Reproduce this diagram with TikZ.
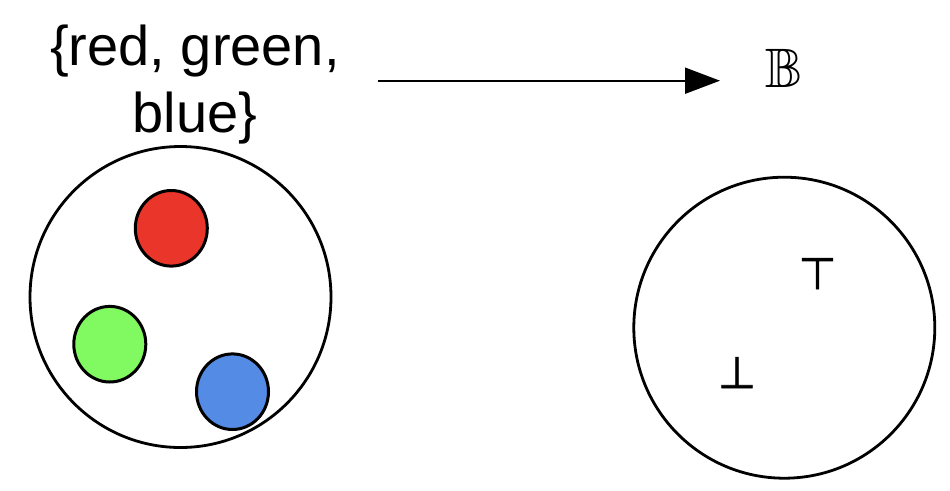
\documentclass[tikz,border=0pt]{standalone}
\usepackage{fontspec}
\setmainfont{Liberation Sans}
\newfontfamily\symfont[FakeBold=1.5]{DejaVu Sans}
\usepackage{amssymb}
\usetikzlibrary{shapes.geometric,arrows.meta}
\definecolor{dotred}{HTML}{E9352A}
\definecolor{dotgreen}{HTML}{80FA60}
\definecolor{dotblue}{HTML}{538BE5}
\begin{document}
\begin{tikzpicture}[x=1pt,y=-1pt,
  setcircle/.style={circle,draw,line width=2.8pt,minimum size=301pt,inner sep=0pt},
  dot/.style={ellipse,draw,line width=3pt,minimum width=72pt,minimum height=75.6pt,inner sep=0pt},
  settext/.style={align=center,inner sep=0pt,font=\fontsize{56}{67}\selectfont},
  symtext/.style={inner sep=0pt,font=\symfont\fontsize{44}{44}\selectfont},
  maparrow/.style={line width=2pt,-{Triangle[length=35pt,width=26pt]}}
]
\useasboundingbox (0,0) rectangle (950,490);
% left set
\node[settext,anchor=base] (colors) at (195,132) {\{red, green,\\blue\}};
\node[setcircle] (cset) at (180.5,297) {};
\node[dot,fill=dotred] (r) at (171.3,228.3) {};
\node[dot,fill=dotgreen] (g) at (109.8,344.2) {};
\node[dot,fill=dotblue] (b) at (232.5,391.7) {};
% right set
\node[inner sep=0pt,scale=5.56,anchor=base] (bool) at (784.5,87) {$\mathbb{B}$};
\node[setcircle] (bset) at (784.3,327.7) {};
\node[symtext,anchor=base] (tt) at (817.5,289) {⊤};
\node[symtext,anchor=base] (ff) at (737,388) {⊥};
% arrow
\coordinate (as) at (378,80.7);
\coordinate (ae) at (720,80.7);
\draw[maparrow] (as) -- (ae);
\end{tikzpicture}
\end{document}
